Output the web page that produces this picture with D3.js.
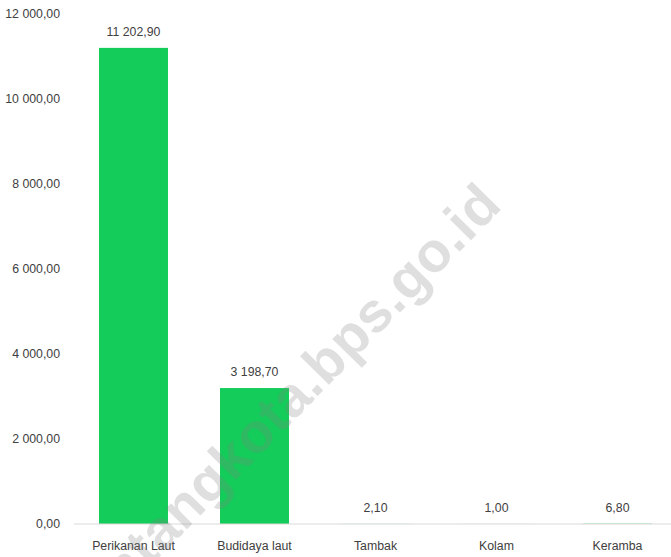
<!DOCTYPE html>
<html>
<head>
<meta charset="utf-8">
<script src="https://cdn.jsdelivr.net/npm/d3@7"></script>
<style>
  html, body { margin: 0; padding: 0; background: #fff; }
  svg { display: block; }
</style>
</head>
<body>
<svg id="chart" width="671" height="557"></svg>
<script>
const categories = ["Perikanan Laut", "Budidaya laut", "Tambak", "Kolam", "Keramba"];
const values = [11202.90, 3198.70, 2.10, 1.00, 6.80];
const valueLabels = ["11 202,90", "3 198,70", "2,10", "1,00", "6,80"];
const yTicks = [0, 2000, 4000, 6000, 8000, 10000, 12000];
const yTickLabels = ["0,00", "2 000,00", "4 000,00", "6 000,00", "8 000,00", "10 000,00", "12 000,00"];
const watermark = "bontangkota.bps.go.id";

const svg = d3.select("#chart");
const FONT = "'Liberation Sans', Arial, sans-serif";
const FS = 12.3;
const TEXT = "#404040";

const x = d3.scaleBand().domain(categories).range([73, 678]).paddingInner(0.43).paddingOuter(0.215);
const y = d3.scaleLinear().domain([0, 12000]).range([524, 14]);

// bars
svg.append("g").selectAll("rect").data(values).join("rect")
  .attr("x", (d, i) => x(categories[i]))
  .attr("width", x.bandwidth())
  .attr("y", d => y(d))
  .attr("height", d => y(0) - y(d))
  .attr("fill", "#14CC5A");

// baseline
svg.append("line")
  .attr("x1", 74).attr("x2", 671)
  .attr("y1", y(0)).attr("y2", y(0))
  .attr("stroke", "#d9d9d9").attr("stroke-width", 1);

// y axis labels
const yAxis = d3.axisLeft(y).tickValues(yTicks).tickSize(0).tickPadding(0)
  .tickFormat((d, i) => yTickLabels[i]);
const gy = svg.append("g").attr("transform", "translate(60,0)").call(yAxis);
gy.select(".domain").remove();
gy.selectAll("text").attr("font-family", FONT).attr("font-size", FS).attr("fill", TEXT);

// x axis labels
const xAxis = d3.axisBottom(x).tickSize(0).tickPadding(0);
const gx = svg.append("g").attr("transform", `translate(0,${y(0) + 17})`).call(xAxis);
gx.select(".domain").remove();
gx.selectAll("text").attr("font-family", FONT).attr("font-size", FS).attr("fill", TEXT);

// value labels
svg.append("g").selectAll("text").data(values).join("text")
  .attr("x", (d, i) => x(categories[i]) + x.bandwidth() / 2)
  .attr("y", d => y(d) - 12)
  .attr("text-anchor", "middle")
  .attr("font-family", FONT).attr("font-size", FS).attr("fill", TEXT)
  .text((d, i) => valueLabels[i]);

// watermark
svg.append("text")
  .attr("transform", "translate(490,193) rotate(-45.5)")
  .attr("text-anchor", "end")
  .attr("dominant-baseline", "central")
  .attr("font-family", "'Liberation Sans', Arial, sans-serif")
  .attr("font-weight", "bold")
  .attr("font-size", 56)
  .attr("letter-spacing", 0.5)
  .attr("fill", "#808080")
  .attr("fill-opacity", 0.25)
  .text(watermark);
</script>
</body>
</html>
